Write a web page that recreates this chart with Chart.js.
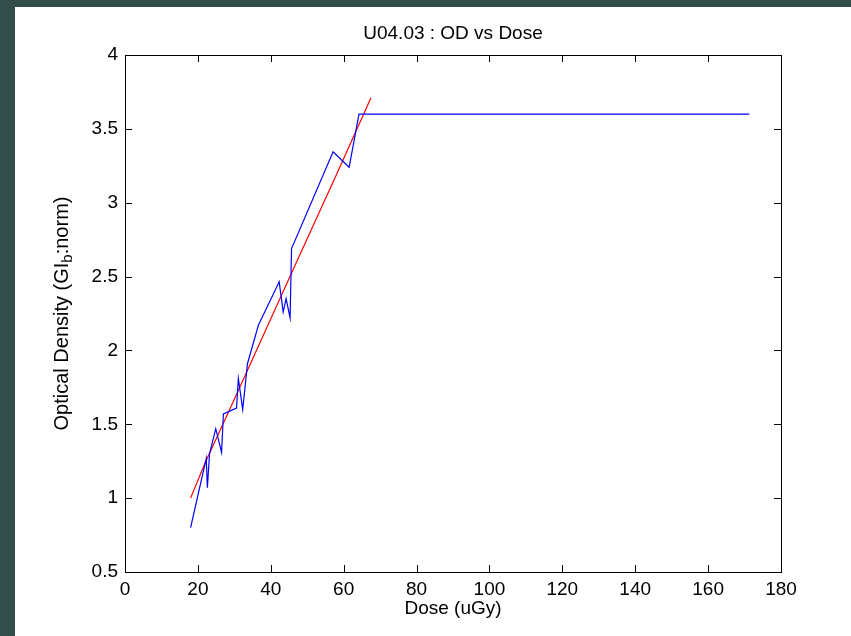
<!DOCTYPE html>
<html lang="en">
  <head>
    <meta charset="UTF-8" />
    <title>U04.03 : OD vs Dose</title>
    <script src="https://cdn.jsdelivr.net/npm/chart.js"></script>
    <style>
      html, body { margin: 0; padding: 0; background: #fff; }
      body { border-left: 15px solid #334d4a; border-top: 7px solid #334d4a; width: 836px; height: 629px; }
      canvas { display: block; }
    </style>
  </head>
  <body>
    <canvas id="odChart" width="836" height="629"></canvas>

    <script>
      // measured curve (blue)
      const doseMeasured = [18, 22.3, 22.6, 23.2, 24.9, 26.5, 27, 30.6, 31.1, 32.3, 33.6, 36.6, 42.3, 43.4, 44.2, 45.3, 45.7, 57.1, 61.5, 64.2, 171.3];
      const odMeasured = [0.8, 1.27, 1.07, 1.3, 1.47, 1.31, 1.57, 1.61, 1.81, 1.6, 1.91, 2.17, 2.465, 2.26, 2.35, 2.22, 2.69, 3.345, 3.24, 3.6, 3.6];

      // fitted curve (red)
      const doseFit = [18, 22, 30, 45.7, 58, 67.5];
      const odFit = [1.0, 1.24, 1.67, 2.525, 3.19, 3.71];

      const xTicks = [0, 20, 40, 60, 80, 100, 120, 140, 160, 180];
      const yTicks = [0.5, 1, 1.5, 2, 2.5, 3, 3.5, 4];

      const FONT = '19px "Liberation Sans", Arial, sans-serif';
      const YLABEL_FONT = '20px "Liberation Sans", Arial, sans-serif';
      const TICK_LEN = 7;

      const toPoints = (xs, ys) => xs.map((x, i) => ({ x: x, y: ys[i] }));

      // box, inward ticks on all sides, title and axis labels (matlab look)
      const matlabFrame = {
        id: "matlabFrame",
        afterDraw(chart) {
          const { ctx, chartArea: a, scales } = chart;
          ctx.save();
          ctx.strokeStyle = "#000";
          ctx.lineWidth = 1;
          ctx.beginPath();
          for (const v of xTicks) {
            const px = Math.round(scales.x.getPixelForValue(v)) + 0.5;
            ctx.moveTo(px, a.bottom);
            ctx.lineTo(px, a.bottom - TICK_LEN);
            ctx.moveTo(px, a.top);
            ctx.lineTo(px, a.top + TICK_LEN);
          }
          for (const v of yTicks) {
            const py = Math.round(scales.y.getPixelForValue(v)) + 0.5;
            ctx.moveTo(a.left, py);
            ctx.lineTo(a.left + TICK_LEN, py);
            ctx.moveTo(a.right, py);
            ctx.lineTo(a.right - TICK_LEN, py);
          }
          ctx.stroke();
          ctx.strokeRect(Math.round(a.left) + 0.5, Math.round(a.top) + 0.5,
            Math.round(a.right - a.left), Math.round(a.bottom - a.top));

          ctx.fillStyle = "#000";
          ctx.font = FONT;
          ctx.textAlign = "center";
          ctx.textBaseline = "middle";
          const cx = (a.left + a.right) / 2;
          ctx.fillText("U04.03 : OD vs Dose", cx, 27);
          ctx.fillText("Dose (uGy)", cx, 602);

          // y label with subscript b
          const partA = "Optical Density (GI";
          const partB = "b";
          const partC = ":norm)";
          const subFont = '15px "Liberation Sans", Arial, sans-serif';
          ctx.font = YLABEL_FONT;
          const wA = ctx.measureText(partA).width;
          const wC = ctx.measureText(partC).width;
          ctx.font = subFont;
          const wB = ctx.measureText(partB).width;
          const total = wA + wB + wC;
          ctx.translate(47, (a.top + a.bottom) / 2);
          ctx.rotate(-Math.PI / 2);
          ctx.textAlign = "left";
          let x0 = -total / 2;
          ctx.font = YLABEL_FONT;
          ctx.fillText(partA, x0, 0);
          x0 += wA;
          ctx.font = subFont;
          ctx.fillText(partB, x0, 6);
          x0 += wB;
          ctx.font = YLABEL_FONT;
          ctx.fillText(partC, x0, 0);
          ctx.restore();
        },
      };

      const ctx = document.getElementById("odChart").getContext("2d");
      new Chart(ctx, {
        type: "line",
        data: {
          datasets: [
            {
              label: "Measured",
              data: toPoints(doseMeasured, odMeasured),
              borderColor: "#0000ff",
              borderWidth: 1.2,
              pointRadius: 0,
              tension: 0,
              fill: false,
            },
            {
              label: "Fit",
              data: toPoints(doseFit, odFit),
              borderColor: "#ff0000",
              borderWidth: 1.2,
              pointRadius: 0,
              tension: 0,
              fill: false,
            },
          ],
        },
        options: {
          responsive: false,
          animation: false,
          devicePixelRatio: 1,
          layout: { padding: { left: 0, top: 48, right: 70, bottom: 0 } },
          plugins: {
            legend: { display: false },
            tooltip: { enabled: false },
            title: { display: false },
          },
          scales: {
            x: {
              type: "linear",
              min: 0,
              max: 180,
              afterFit: (s) => { s.height = 64; },
              afterBuildTicks: (s) => { s.ticks = xTicks.map((v) => ({ value: v })); },
              grid: { display: false, drawTicks: false },
              border: { display: false },
              ticks: { color: "#000", font: { family: "Liberation Sans", size: 19 }, padding: 6, maxRotation: 0, callback: (v) => String(v) },
            },
            y: {
              type: "linear",
              min: 0.5,
              max: 4,
              afterFit: (s) => { s.width = 110; },
              afterBuildTicks: (s) => { s.ticks = yTicks.map((v) => ({ value: v })); },
              grid: { display: false, drawTicks: false },
              border: { display: false },
              ticks: { color: "#000", font: { family: "Liberation Sans", size: 19 }, padding: 7, callback: (v) => String(v) },
            },
          },
        },
        plugins: [matlabFrame],
      });
    </script>
  </body>
</html>
